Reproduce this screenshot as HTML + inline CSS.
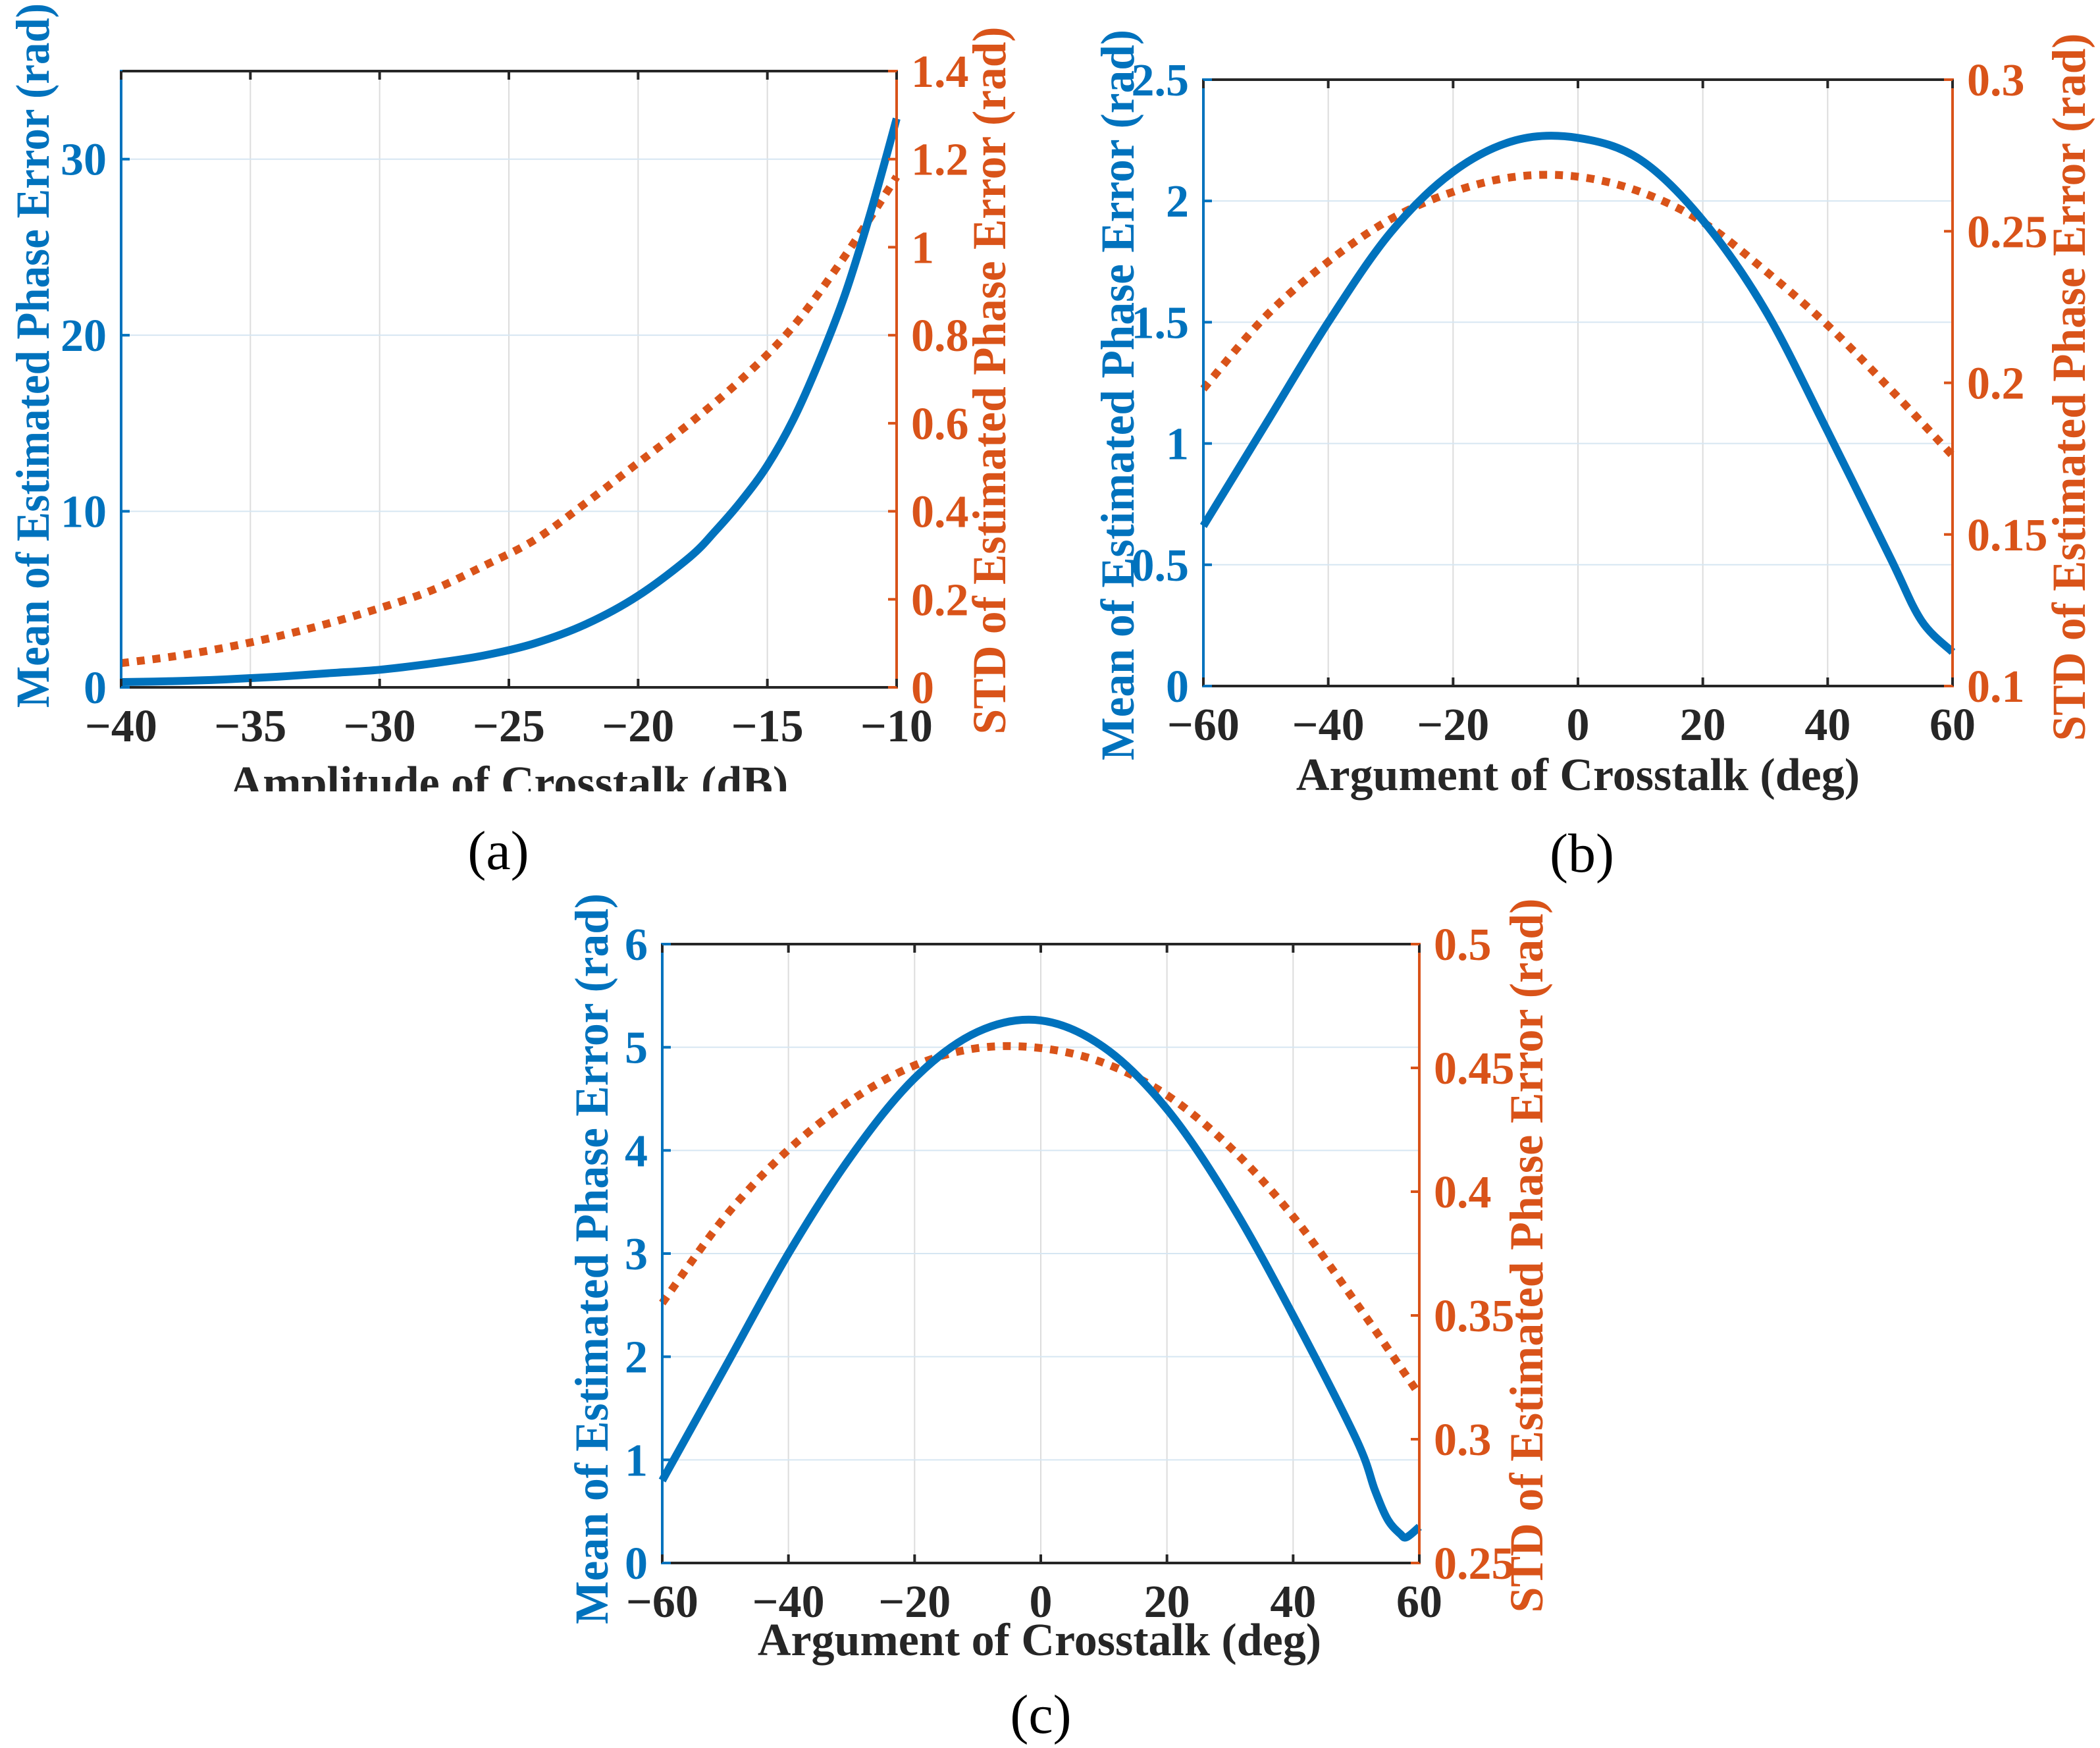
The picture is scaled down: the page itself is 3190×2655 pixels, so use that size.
<!DOCTYPE html>
<html><head><meta charset="utf-8"><style>
html,body{margin:0;padding:0;background:#fff;}
svg{display:block;}
text{font-family:"Liberation Serif",serif;font-weight:bold;}
</style></head><body>
<svg id="fig" width="3190" height="2655" viewBox="0 0 3190 2655" xmlns="http://www.w3.org/2000/svg">
<defs><clipPath id="clipA"><rect x="0" y="0" width="1600" height="1202"/></clipPath></defs>
</svg>
<script>
// ---- Panel (a) data ----
const aX = [-40,-38,-36,-34,-32,-30,-28,-26,-24,-22,-20,-18,-17,-16,-15,-14,-13,-12,-11,-10];
const aMean = [0.3,0.35,0.45,0.6,0.8,1.0,1.35,1.8,2.5,3.6,5.2,7.4,8.9,10.6,12.6,15.2,18.5,22.3,27.0,32.3];
const aStdX = [-40,-38,-36,-34,-32,-30,-28,-26,-24,-22,-20,-18,-16,-14,-12,-10];
const aStd = [0.055,0.07,0.09,0.115,0.145,0.18,0.22,0.275,0.335,0.42,0.51,0.6,0.7,0.82,0.98,1.16];
const aXTicks = [-40,-35,-30,-25,-20,-15,-10];
const aYTicks = [0,10,20,30];
const aY2Ticks = [0,0.2,0.4,0.6,0.8,1,1.2,1.4];
const aY2Labels = ["0","0.2","0.4","0.6","0.8","1","1.2","1.4"];
// ---- Panel (b) data ----
const bX = [-60,-50,-40,-30,-20,-10,0,10,20,30,40,50,55,60];
const bMean = [0.66,1.08,1.5,1.87,2.12,2.25,2.26,2.17,1.92,1.55,1.05,0.53,0.27,0.14];
const bStdX = [-60,-50,-40,-30,-20,-10,0,10,20,30,40,50,60];
const bStd = [0.198,0.222,0.24,0.254,0.263,0.268,0.268,0.263,0.253,0.237,0.219,0.198,0.176];
const bXTicks = [-60,-40,-20,0,20,40,60];
const bYTicks = [0,0.5,1,1.5,2,2.5];
const bYLabels = ["0","0.5","1","1.5","2","2.5"];
const bY2Ticks = [0.1,0.15,0.2,0.25,0.3];
const bY2Labels = ["0.1","0.15","0.2","0.25","0.3"];
// ---- Panel (c) data ----
const cX = [-60,-50,-40,-30,-20,-10,0,10,20,30,40,50,53,55,57,58,60];
const cMean = [0.8,1.9,3.0,3.95,4.7,5.15,5.26,5.0,4.4,3.5,2.4,1.2,0.7,0.42,0.28,0.25,0.35];
const cStdX = [-60,-50,-40,-30,-20,-10,0,10,20,30,40,50,60];
const cStd = [0.355,0.39,0.417,0.437,0.451,0.458,0.458,0.452,0.439,0.418,0.39,0.355,0.318];
const cXTicks = [-60,-40,-20,0,20,40,60];
const cYTicks = [0,1,2,3,4,5,6];
const cY2Ticks = [0.25,0.3,0.35,0.4,0.45,0.5];
const cY2Labels = ["0.25","0.3","0.35","0.4","0.45","0.5"];

const NS = "http://www.w3.org/2000/svg";
const svg = document.getElementById('fig');
const BLUE = "#0072BD", ORANGE = "#D95319", DARK = "#262626";
function mk(tag, attrs, parent){const e=document.createElementNS(NS,tag);for(const k in attrs)e.setAttribute(k,attrs[k]);(parent||svg).appendChild(e);return e;}

function smoothPath(pts){
  let d = "M"+pts[0][0].toFixed(1)+","+pts[0][1].toFixed(1);
  for(let i=0;i<pts.length-1;i++){
    const p0=pts[Math.max(0,i-1)],p1=pts[i],p2=pts[i+1],p3=pts[Math.min(pts.length-1,i+2)];
    const c1=[p1[0]+(p2[0]-p0[0])/6,p1[1]+(p2[1]-p0[1])/6];
    const c2=[p2[0]-(p3[0]-p1[0])/6,p2[1]-(p3[1]-p1[1])/6];
    d+=" C"+c1[0].toFixed(1)+","+c1[1].toFixed(1)+" "+c2[0].toFixed(1)+","+c2[1].toFixed(1)+" "+p2[0].toFixed(1)+","+p2[1].toFixed(1);
  }
  return d;
}

function panel(p){
  const g = mk('g',{});
  
  
  if(p.clip) g.setAttribute('clip-path', p.clip);
  const sx = v => p.L + (v-p.xmin)/(p.xmax-p.xmin)*(p.R-p.L);
  const sy = v => p.B - (v-p.ymin)/(p.ymax-p.ymin)*(p.B-p.T);
  const sy2 = v => p.B - (v-p.y2min)/(p.y2max-p.y2min)*(p.B-p.T);
  p.xt.forEach(v=>{ if(v>p.xmin&&v<p.xmax){ const l=mk('line',{x1:sx(v),x2:sx(v),y1:p.T,y2:p.B,stroke:"#dcdcdc","stroke-width":2},g);
      }});
  p.yt.forEach(v=>{ if(v>p.ymin&&v<p.ymax){ const l=mk('line',{x1:p.L,x2:p.R,y1:sy(v),y2:sy(v),stroke:"#d6e6f2","stroke-width":2},g);
      }});
  const stdPts = p.sx2.map((x,i)=>[sx(x),sy2(p.std[i])]);
  const meanPts = p.mx.map((x,i)=>[sx(x),sy(p.mean[i])]);
  const s2 = mk('path',{d:smoothPath(stdPts),fill:"none",stroke:ORANGE,"stroke-width":12,"stroke-dasharray":"12 12"},g);
   
  const s1 = mk('path',{d:smoothPath(meanPts),fill:"none",stroke:BLUE,"stroke-width":12,"stroke-linejoin":"round"},g);
   
  const top = mk('line',{x1:p.L,x2:p.R,y1:p.T,y2:p.T,stroke:DARK,"stroke-width":4},g);
   
  const bot = mk('line',{x1:p.L,x2:p.R,y1:p.B,y2:p.B,stroke:DARK,"stroke-width":4},g);
   
  const la = mk('line',{x1:p.L,x2:p.L,y1:p.T-2,y2:p.B+2,stroke:BLUE,"stroke-width":4},g);
   
  const ra = mk('line',{x1:p.R,x2:p.R,y1:p.T-2,y2:p.B+2,stroke:ORANGE,"stroke-width":4},g);
   
  p.xt.forEach(v=>{
    mk('line',{x1:sx(v),x2:sx(v),y1:p.B,y2:p.B-13,stroke:DARK,"stroke-width":4},g);
    mk('line',{x1:sx(v),x2:sx(v),y1:p.T,y2:p.T+13,stroke:DARK,"stroke-width":4},g);
    const t = mk('text',{x:sx(v),y:p.B+82,"text-anchor":"middle","font-size":70,fill:DARK},g);
    t.textContent = (v<0?"\u2212"+Math.abs(v):String(v));
     
  });
  p.yt.forEach((v,i)=>{
    mk('line',{x1:p.L,x2:p.L+13,y1:sy(v),y2:sy(v),stroke:BLUE,"stroke-width":4},g);
    const t = mk('text',{x:p.L-22,y:sy(v)+24,"text-anchor":"end","font-size":70,fill:BLUE},g);
    t.textContent = p.yl ? p.yl[i] : String(v);
     
  });
  p.y2t.forEach((v,i)=>{
    mk('line',{x1:p.R,x2:p.R-13,y1:sy2(v),y2:sy2(v),stroke:ORANGE,"stroke-width":4},g);
    const t = mk('text',{x:p.R+22,y:sy2(v)+24,"text-anchor":"start","font-size":70,fill:ORANGE},g);
    t.textContent = p.y2l[i];
     
  });
  const xl = mk('text',{x:p.xlx,y:p.xly,"text-anchor":"middle","font-size":70,fill:DARK},g);
  xl.textContent = p.xlabel;
   
  const yl = mk('text',{x:0,y:0,"text-anchor":"middle","font-size":72,fill:BLUE,textLength:p.ylLen,lengthAdjust:"spacingAndGlyphs",transform:`translate(${p.ylx},${p.ylc}) rotate(-90)`},g);
  yl.textContent = "Mean of Estimated Phase Error (rad)";
   
  const y2l = mk('text',{x:0,y:0,"text-anchor":"middle","font-size":72,fill:ORANGE,textLength:p.y2lLen,lengthAdjust:"spacingAndGlyphs",transform:`translate(${p.y2lx},${p.y2lc}) rotate(-90)`},svg);
  y2l.textContent = "STD of Estimated Phase Error (rad)";
   
  const cap = mk('text',{x:p.capx,y:p.capy,"text-anchor":"middle","font-size":84,fill:"#000"},svg);
  cap.setAttribute('style','font-weight:normal');
  cap.textContent = p.cap;
   
}

panel({name:'panel-a',clip:'url(#clipA)',L:184,R:1362,T:108,B:1044,xmin:-40,xmax:-10,ymin:0,ymax:35,y2min:0,y2max:1.4,
  mx:aX,mean:aMean,sx2:aStdX,std:aStd,xt:aXTicks,yt:aYTicks,y2t:aY2Ticks,y2l:aY2Labels,
  xlabel:"Amplitude of Crosstalk (dB)",xlx:773,xly:1212,ylx:74,ylc:540,ylLen:1070,y2lx:1527,y2lc:578,y2lLen:1075,cap:"(a)",capx:757,capy:1320});
panel({name:'panel-b',L:1828,R:2966,T:121,B:1042,xmin:-60,xmax:60,ymin:0,ymax:2.5,y2min:0.1,y2max:0.3,
  mx:bX,mean:bMean,sx2:bStdX,std:bStd,xt:bXTicks,yt:bYTicks,yl:bYLabels,y2t:bY2Ticks,y2l:bY2Labels,
  xlabel:"Argument of Crosstalk (deg)",xlx:2397,xly:1200,ylx:1722,ylc:600,ylLen:1110,y2lx:3167,y2lc:588,y2lLen:1075,cap:"(b)",capx:2403,capy:1324});
panel({name:'panel-c',L:1006,R:2156,T:1434,B:2374,xmin:-60,xmax:60,ymin:0,ymax:6,y2min:0.25,y2max:0.5,
  mx:cX,mean:cMean,sx2:cStdX,std:cStd,xt:cXTicks,yt:cYTicks,y2t:cY2Ticks,y2l:cY2Labels,
  xlabel:"Argument of Crosstalk (deg)",xlx:1579,xly:2514,ylx:923,ylc:1912,ylLen:1110,y2lx:2343,y2lc:1907,y2lLen:1085,cap:"(c)",capx:1581,capy:2632});
</script>
</body></html>
